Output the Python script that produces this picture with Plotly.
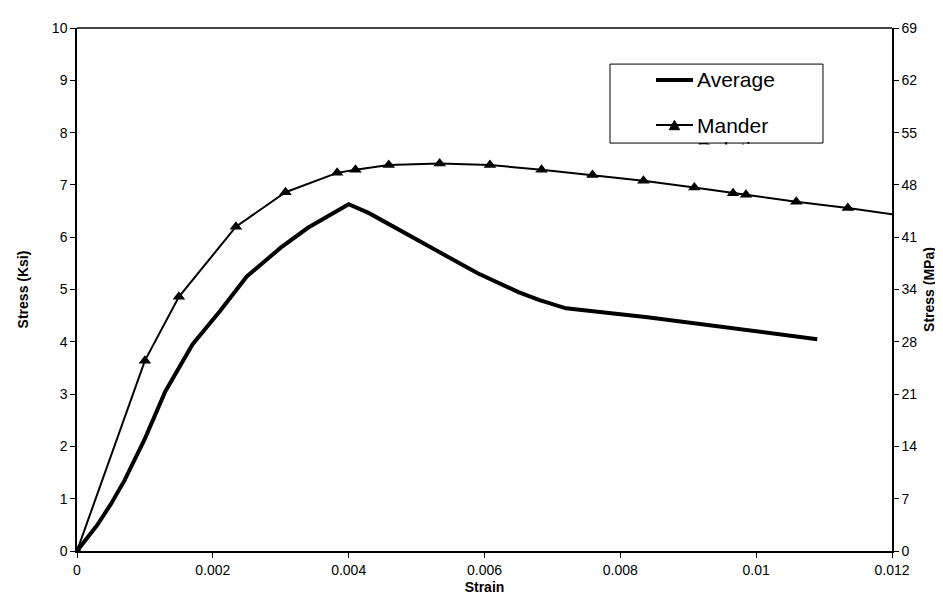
import plotly.graph_objects as go

# ---- data ----
avg_strain = [0, 0.0003, 0.0005, 0.0007, 0.001, 0.0013, 0.0017, 0.0021, 0.0025, 0.003,
              0.0034, 0.004, 0.0043, 0.0046, 0.0053, 0.0059, 0.0065, 0.0068, 0.0072,
              0.0084, 0.0097, 0.0109]
avg_stress = [0, 0.5, 0.9, 1.35, 2.15, 3.05, 3.95, 4.58, 5.25, 5.8,
              6.18, 6.63, 6.46, 6.25, 5.74, 5.31, 4.95, 4.8, 4.64,
              4.47, 4.26, 4.05]

mander_strain = [0, 0.001, 0.0015, 0.00234, 0.00307, 0.00383, 0.0041, 0.00459, 0.00534,
                 0.00608, 0.00684, 0.00759, 0.00834, 0.00909, 0.00966, 0.00985, 0.01059,
                 0.01135, 0.0121]
mander_stress = [0, 3.64, 4.86, 6.2, 6.86, 7.23, 7.29, 7.38, 7.41,
                 7.38, 7.29, 7.19, 7.08, 6.95, 6.84, 6.81, 6.68,
                 6.56, 6.42]

x_ticks = [0, 0.002, 0.004, 0.006, 0.008, 0.010, 0.012]
x_ticktext = ["0", "0.002", "0.004", "0.006", "0.008", "0.01", "0.012"]
y_ticks = [0, 1, 2, 3, 4, 5, 6, 7, 8, 9, 10]
y2_ticks = [0, 6.9, 13.8, 20.7, 27.6, 34.5, 41.4, 48.3, 55.2, 62.1, 69]
y2_ticktext = ["0", "7", "14", "21", "28", "34", "41", "48", "55", "62", "69"]

FONT = "Liberation Sans, Arial, sans-serif"

fig = go.Figure()
fig.add_trace(go.Scatter(x=avg_strain, y=avg_stress, mode="lines", name="Average",
                         line=dict(color="black", width=4), showlegend=False,
                         hoverinfo="skip"))
fig.add_trace(go.Scatter(x=mander_strain, y=mander_stress, mode="lines+markers",
                         name="Mander Relation", line=dict(color="black", width=2),
                         marker=dict(symbol="triangle-up", size=11, color="black"),
                         showlegend=False, hoverinfo="skip"))
# invisible trace to activate the secondary (MPa) axis
fig.add_trace(go.Scatter(x=[0], y=[0], yaxis="y2", mode="markers",
                         marker=dict(opacity=0), showlegend=False, hoverinfo="skip"))

axis_common = dict(showgrid=False, zeroline=False, showline=True, linecolor="black",
                   linewidth=1.5, ticks="outside", ticklen=5, tickcolor="black",
                   tickfont=dict(family=FONT, size=14, color="black"))

fig.update_layout(
    width=943, height=605,
    margin=dict(l=69, r=59, t=20, b=62),
    paper_bgcolor="white", plot_bgcolor="white",
    xaxis=dict(range=[0, 0.012], tickvals=x_ticks, ticktext=x_ticktext,
               title=dict(text="<b>Strain</b>", font=dict(family=FONT, size=14, color="black"),
                          standoff=6),
               **axis_common),
    yaxis=dict(range=[0, 10], tickvals=y_ticks,
               title=dict(text="<b>Stress (Ksi)</b>", font=dict(family=FONT, size=14, color="black"),
                          standoff=20),
               **axis_common),
    yaxis2=dict(range=[0, 69], tickvals=y2_ticks, ticktext=y2_ticktext, overlaying="y",
                side="right", anchor="x",
                title=dict(text="<b>Stress (MPa)</b>", font=dict(family=FONT, size=14, color="black"),
                           standoff=8),
                **axis_common),
)

# top border
fig.add_shape(type="line", xref="paper", yref="paper", x0=0, x1=1, y0=1, y1=1,
              line=dict(color="#454545", width=2))

# custom legend box
fig.add_shape(type="rect", xref="paper", yref="paper", x0=0.654, x1=0.9153, y0=0.780, y1=0.931,
              line=dict(color="black", width=1), fillcolor="white", layer="above")
fig.add_shape(type="line", xref="paper", yref="paper", x0=0.7104, x1=0.7558, y0=0.9006, y1=0.9006,
              line=dict(color="black", width=4), layer="above")
fig.add_shape(type="line", xref="paper", yref="paper", x0=0.7104, x1=0.7558, y0=0.8145, y1=0.8145,
              line=dict(color="black", width=2), layer="above")
fig.add_shape(type="path", xref="paper", yref="paper",
              path="M 0.7268,0.8055 L 0.7394,0.8055 L 0.7331,0.8235 Z",
              fillcolor="black", line=dict(color="black", width=1), layer="above")

fig.add_annotation(xref="paper", yref="paper", x=0.7583, y=0.9006, xanchor="left", yanchor="middle",
                   text="Average", showarrow=False, font=dict(family=FONT, size=21, color="black"))
fig.add_annotation(xref="paper", yref="paper", x=0.7583, y=0.8145, xanchor="left", yanchor="middle",
                   text="Mander", showarrow=False, font=dict(family=FONT, size=21, color="black"))
fig.add_annotation(xref="paper", yref="paper", x=0.7583, y=0.7680, xanchor="left", yanchor="middle",
                   text="Relation", showarrow=False, font=dict(family=FONT, size=21, color="black"))
# cover to clip the wrapped legend text at the legend box border
fig.add_annotation(xref="paper", yref="paper", x=0.7847, y=0.7785, xanchor="center", yanchor="top",
                   text=" ", showarrow=False, width=211, height=24, bgcolor="white",
                   borderpad=0, font=dict(size=10))

fig.write_html("out.html")
